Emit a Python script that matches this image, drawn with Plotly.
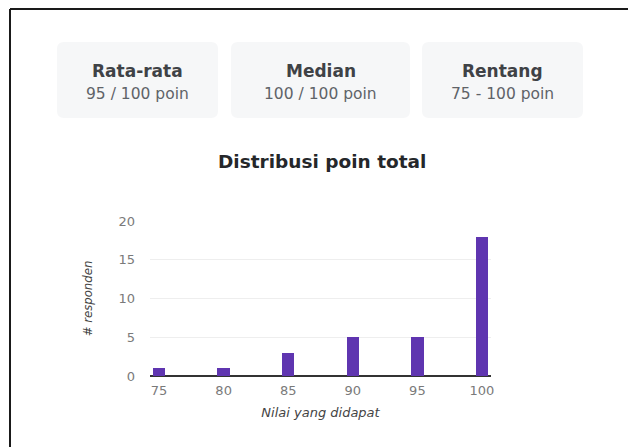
import plotly.graph_objects as go

# Score distribution
scores = [75, 80, 85, 90, 95, 100]
respondents = [1, 1, 3, 5, 5, 18]
y_ticks = [0, 5, 10, 15, 20]

# Summary cards
card_titles = ["Rata-rata", "Median", "Rentang"]
card_values = ["95 / 100 poin", "100 / 100 poin", "75 - 100 poin"]

W, H = 628, 447
FONT = "DejaVu Sans"
NARROW = "DejaVu Sans Condensed, Liberation Sans Narrow, Roboto Condensed, DejaVu Sans, sans-serif"
PURPLE = "#5f35b0"


def px(x):
    return x / W


def py(y):
    return 1 - y / H


def rounded_rect(x0, y0, x1, y1, r):
    # rounded rectangle path in paper coordinates, given pixel bounds
    rx, ry = r / W, r / H
    a, b, c, d = px(x0), py(y1), px(x1), py(y0)
    return (f"M {a+rx},{b} L {c-rx},{b} Q {c},{b} {c},{b+ry} "
            f"L {c},{d-ry} Q {c},{d} {c-rx},{d} L {a+rx},{d} "
            f"Q {a},{d} {a},{d-ry} L {a},{b+ry} Q {a},{b} {a+rx},{b} Z")


fig = go.Figure()
fig.add_trace(go.Bar(
    x=scores, y=respondents, width=0.95,
    marker=dict(color=PURPLE, line=dict(width=0)),
    hoverinfo="x+y",
))

card_bounds = [(57, 218), (231, 410), (422, 583)]
shapes = []
annotations = []
for (x0, x1), t, v in zip(card_bounds, card_titles, card_values):
    shapes.append(dict(type="path", xref="paper", yref="paper",
                       path=rounded_rect(x0, 42, x1, 118, 7),
                       fillcolor="#f6f7f8", line=dict(width=0), layer="below"))
    cx = px((x0 + x1) / 2)
    annotations.append(dict(x=cx, y=py(71), xref="paper", yref="paper",
                            text=f"<b>{t}</b>", showarrow=False,
                            xanchor="center", yanchor="middle",
                            font=dict(family=FONT, size=17, color="#3f4246")))
    annotations.append(dict(x=cx, y=py(94), xref="paper", yref="paper",
                            text=v, showarrow=False, xanchor="center", yanchor="middle",
                            font=dict(family=FONT, size=15.5, color="#5f6368")))

# chart title
annotations.append(dict(x=px(322), y=py(161), xref="paper", yref="paper",
                        text="<b>Distribusi poin total</b>", showarrow=False,
                        xanchor="center", yanchor="middle",
                        font=dict(family=FONT, size=18.5, color="#25272a")))

# frame lines along the top and left
shapes.append(dict(type="line", xref="paper", yref="paper",
                   x0=px(10), y0=py(9), x1=1.0, y1=py(9),
                   line=dict(color="#1a1a1a", width=2)))
shapes.append(dict(type="line", xref="paper", yref="paper",
                   x0=px(10), y0=py(9), x1=px(10), y1=0,
                   line=dict(color="#1a1a1a", width=2)))

fig.update_layout(
    width=W, height=H,
    margin=dict(l=0, r=0, t=0, b=0),
    paper_bgcolor="white", plot_bgcolor="white",
    showlegend=False,
    bargap=0,
    shapes=shapes,
    annotations=annotations,
    xaxis=dict(
        domain=[px(150), px(491)],
        range=[74.3, 100.7],
        tickvals=scores, ticktext=[str(s) for s in scores],
        showgrid=False, zeroline=False, showline=False,
        ticks="", ticklen=0,
        ticklabelstandoff=5,
        tickfont=dict(family=FONT, size=13, color="#7a7a7a"),
        title=dict(text="<i>Nilai yang didapat</i>", standoff=10,
                   font=dict(family=FONT, size=13, color="#444444")),
        automargin=False,
        fixedrange=True,
    ),
    yaxis=dict(
        domain=[py(376), py(221)],
        range=[0, 20],
        tickvals=y_ticks,
        showgrid=True, gridcolor="#eeeeee", gridwidth=1,
        zeroline=True, zerolinecolor="#333333", zerolinewidth=1.5,
        showline=False, ticks="",
        tickfont=dict(family=FONT, size=13, color="#7a7a7a"),
        ticklabelstandoff=14,
        title=dict(text="<i># responden</i>", standoff=22,
                   font=dict(family=NARROW, size=13, color="#444444")),
        automargin=False,
        fixedrange=True,
    ),
)

fig.write_html("out.html")
